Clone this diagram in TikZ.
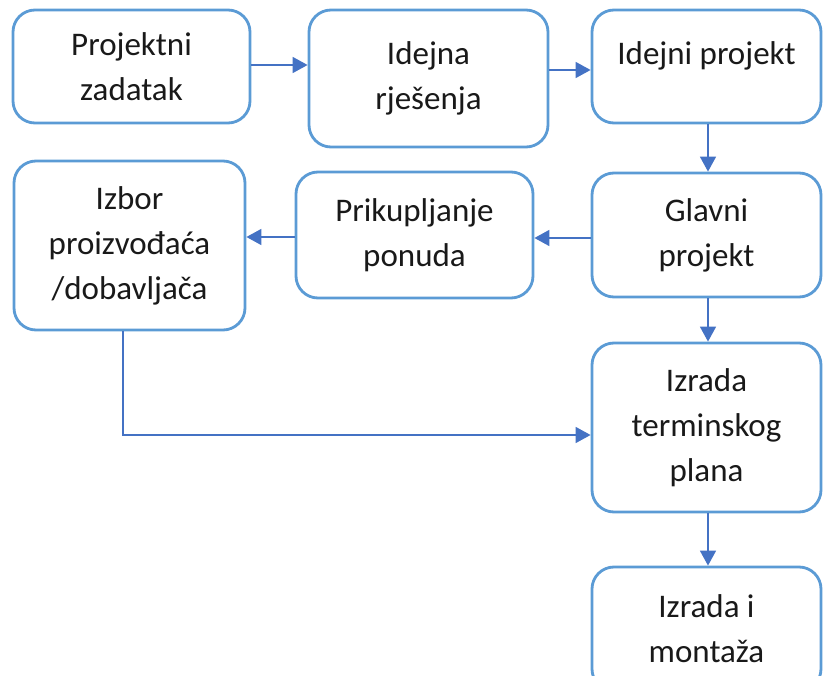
\documentclass[tikz,border=0pt]{standalone}
\usepackage{fontspec}
\setmainfont{Carlito}
\usetikzlibrary{arrows.meta}
\definecolor{boxblue}{HTML}{5B9BD5}
\definecolor{arrblue}{HTML}{4472C4}
\begin{document}
\begin{tikzpicture}[x=1pt,y=-1pt]
\tikzset{
  box/.style={draw=boxblue, line width=2.8pt, rounded corners=22pt, fill=white,
    align=center, font=\fontsize{33}{45}\selectfont, inner sep=0pt, text=black!90},
  arr/.style={draw=arrblue, line width=1.6pt, -{Triangle[length=15pt,width=16pt]}}
}
\useasboundingbox (0,0) rectangle (823,676);
\node[box, minimum width=237pt, minimum height=113pt] (a) at (131.5,66.5) {Projektni\\zadatak};
\node[box, minimum width=239pt, minimum height=137pt] (b) at (428.5,78.5) {Idejna\\rješenja};
\node[box, minimum width=229pt, minimum height=113pt] (c) at (706.5,66.5) {Idejni projekt\\[-18pt]\mbox{}};
\node[box, minimum width=229pt, minimum height=124pt] (d) at (706.5,235) {Glavni\\projekt};
\node[box, minimum width=237pt, minimum height=126pt] (e) at (414.5,235) {Prikupljanje\\ponuda};
\node[box, minimum width=231pt, minimum height=169pt] (f) at (129.5,245.5) {Izbor\\proizvođaća\\/dobavljača};
\node[box, minimum width=229pt, minimum height=169pt] (g) at (706.5,427.5) {Izrada\\terminskog\\plana};
\node[box, minimum width=229pt, minimum height=124pt] (h) at (706.5,629) {Izrada i\\montaža};
\draw[arr] (a.east |- 0,65) -- (b.west |- 0,65);
\draw[arr] (b.east |- 0,70) -- (c.west |- 0,70);
\draw[arr] (c.south -| 708,0) -- (d.north -| 708,0);
\draw[arr] (d.west |- 0,238) -- (e.east |- 0,238);
\draw[arr] (e.west |- 0,237) -- (f.east |- 0,237);
\draw[arr] (d.south -| 708,0) -- (g.north -| 708,0);
\draw[arr] (f.south -| 123,0) |- (g.west |- 0,435);
\draw[arr] (g.south -| 708,0) -- (h.north -| 708,0);
\end{tikzpicture}
\end{document}
